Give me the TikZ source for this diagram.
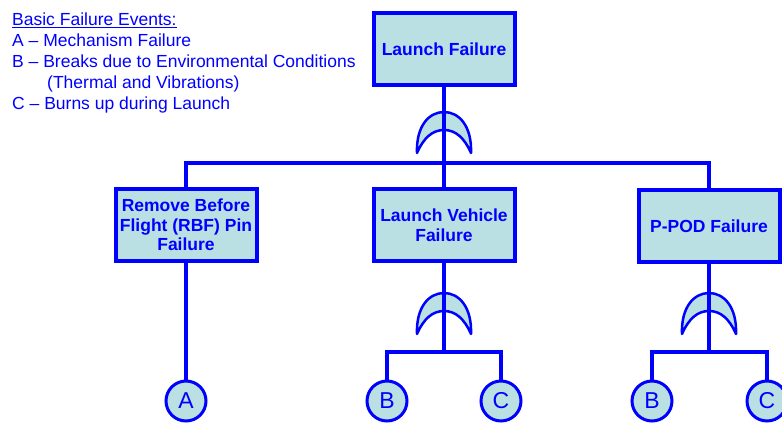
\documentclass[tikz,border=0pt]{standalone}
\usepackage{fontspec}
\setmainfont{Liberation Sans}
\definecolor{ftblue}{RGB}{0,0,255}
\definecolor{gatefill}{RGB}{187,224,227}

\begin{document}
\begin{tikzpicture}[x=1pt, y=-1pt,
		event/.style={draw=ftblue, line width=4pt, fill=gatefill, minimum width=141pt,
			minimum height=72pt, inner sep=2pt, align=center, text=ftblue,
			font=\bfseries\fontsize{17.5}{19.5}\selectfont},
		basic/.style={circle, draw=ftblue, line width=3pt, fill=gatefill, minimum size=40pt,
			inner sep=0pt, text=ftblue, font=\fontsize{23}{23}\selectfont},
		wire/.style={ftblue, line width=4pt},
		pics/orgate/.style={code={
			% bramka OR: łuk zewnętrzny, wklęsły spód, czubki na dole
			\draw[ftblue, line width=2.5pt, fill=gatefill, line join=round]
				(-27,41) .. controls (-28,14) and (-15,0) .. (0,0)
				.. controls (15,0) and (28,14) .. (27,41)
				.. controls (20,25) and (11,18) .. (0,18)
				.. controls (-11,18) and (-20,25) .. (-27,41) -- cycle;
		}}]
		\useasboundingbox (0,0) rectangle (782,423);
		\clip (0,0) rectangle (782,423);
		% legenda zdarzeń podstawowych
		\node[anchor=north west, inner sep=0pt, align=left, text=ftblue,
			font=\fontsize{17.5}{21}\selectfont] (legend) at (12,13)
			{\underline{Basic Failure Events:}\\
			A – Mechanism Failure\\
			B – Breaks due to Environmental Conditions\\
			\hspace*{35pt}(Thermal and Vibrations)\\
			C – Burns up during Launch};
		% zdarzenie szczytowe i trzy przyczyny
		\node[event] (top) at (444,49) {Launch Failure};
		\node[event] (rbf) at (186,225) {Remove Before\\Flight (RBF) Pin\\Failure};
		\node[event] (lv) at (444,225) {Launch Vehicle\\Failure};
		\node[event] (pod) at (709,226) {P-POD Failure};
		% bramki OR
		\pic at (444,112) {orgate};
		\pic at (444,293) {orgate};
		\pic at (709,293) {orgate};
		\coordinate (bar0) at (444,163);
		\coordinate (bar1) at (444,352);
		\coordinate (bar2) at (709,352);
		% zdarzenia podstawowe
		\node[basic] (a) at (186,401) {A};
		\node[basic] (b1) at (387,401) {B};
		\node[basic] (c1) at (501,401) {C};
		\node[basic] (b2) at (652,401) {B};
		\node[basic] (c2) at (767,401) {C};
		% połączenia
		\draw[wire] (top) -- (bar0);
		\draw[wire] (rbf.north) |- (bar0) -| (pod.north);
		\draw[wire] (bar0) -- (lv);
		\draw[wire] (rbf) -- (a);
		\draw[wire] (lv) -- (bar1);
		\draw[wire] (b1) |- (bar1) -| (c1);
		\draw[wire] (pod) -- (bar2);
		\draw[wire] (b2) |- (bar2) -| (c2);
	\end{tikzpicture}
\end{document}
